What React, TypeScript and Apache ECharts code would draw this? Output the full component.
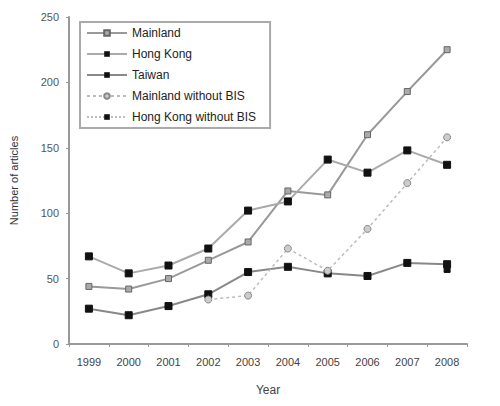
import React, { useEffect, useRef } from "react";
import * as echarts from "echarts";

const years = ["1999", "2000", "2001", "2002", "2003", "2004", "2005", "2006", "2007", "2008"];
const mainland = [44, 42, 50, 64, 78, 117, 114, 160, 193, 225];
const hongKong = [67, 54, 60, 73, 102, 109, 141, 131, 148, 137];
const taiwan = [27, 22, 29, 38, 55, 59, 54, 52, 62, 61];
const mainlandNoBIS = [null, null, null, 34, 37, 73, 56, 88, 123, 158];
const hongKongNoBIS = [null, null, null, null, null, null, null, null, null, 57];

export default function App() {
  const ref = useRef<HTMLDivElement>(null);
  useEffect(() => {
    if (!ref.current) return;
    const chart = echarts.init(ref.current, undefined, { renderer: "svg" });
    const font = "'Liberation Sans Narrow', 'Liberation Sans', Arial, sans-serif";
    chart.setOption({
      animation: false,
      textStyle: { fontFamily: font },
      grid: { left: 68, right: 33, top: 17, bottom: 62 },
      legend: {
        orient: "vertical",
        left: 80,
        top: 22,
        padding: [4, 14, 4, 6],
        borderColor: "#aaa",
        borderWidth: 2,
        itemWidth: 40,
        itemHeight: 7,
        itemGap: 7,
        textStyle: { fontSize: 12, color: "#222", fontFamily: font, lineHeight: 14 },
        data: [
          "Mainland",
          "Hong Kong",
          "Taiwan",
          "Mainland without BIS",
          "Hong Kong without BIS",
        ],
      },
      xAxis: {
        type: "category",
        data: years,
        boundaryGap: true,
        name: "Year",
        nameLocation: "middle",
        nameGap: 40,
        nameTextStyle: { fontSize: 12, color: "#444" },
        axisLine: { lineStyle: { color: "#999", width: 2 } },
        axisTick: { show: true, length: 3, lineStyle: { color: "#999" } },
        axisLabel: { fontSize: 11, color: "#444", margin: 12 },
      },
      yAxis: {
        type: "value",
        min: 0,
        max: 250,
        interval: 50,
        name: "Number of articles",
        nameLocation: "middle",
        nameGap: 50,
        nameRotate: 90,
        nameTextStyle: { fontSize: 11, color: "#333" },
        axisLine: { show: true, lineStyle: { color: "#999", width: 2 } },
        axisTick: { show: true, length: 3, lineStyle: { color: "#999" } },
        axisLabel: { fontSize: 11, color: "#555", margin: 10 },
        splitLine: { show: false },
      },
      series: [
        {
          name: "Mainland",
          type: "line",
          data: mainland,
          symbol: "rect",
          symbolSize: 6,
          lineStyle: { color: "#999", width: 2 },
          itemStyle: { color: "#aaa", borderColor: "#666", borderWidth: 1 },
        },
        {
          name: "Hong Kong",
          type: "line",
          data: hongKong,
          symbol: "rect",
          symbolSize: 7,
          lineStyle: { color: "#aaa", width: 2 },
          itemStyle: { color: "#111", borderColor: "#111" },
        },
        {
          name: "Taiwan",
          type: "line",
          data: taiwan,
          symbol: "rect",
          symbolSize: 7,
          lineStyle: { color: "#888", width: 2 },
          itemStyle: { color: "#111", borderColor: "#111" },
        },
        {
          name: "Mainland without BIS",
          type: "line",
          data: mainlandNoBIS,
          symbol: "circle",
          symbolSize: 7,
          lineStyle: { color: "#bbb", width: 1.5, type: [3, 3] },
          itemStyle: { color: "#ccc", borderColor: "#888", borderWidth: 1 },
        },
        {
          name: "Hong Kong without BIS",
          type: "line",
          data: hongKongNoBIS,
          symbol: "rect",
          symbolSize: 6,
          lineStyle: { color: "#bbb", width: 1.5, type: [2, 2] },
          itemStyle: { color: "#111", borderColor: "#111" },
        },
      ],
    });
    return () => chart.dispose();
  }, []);
  return <div ref={ref} style={{ width: 500, height: 406, position: "absolute", left: 0, top: 0 }} />;
}
